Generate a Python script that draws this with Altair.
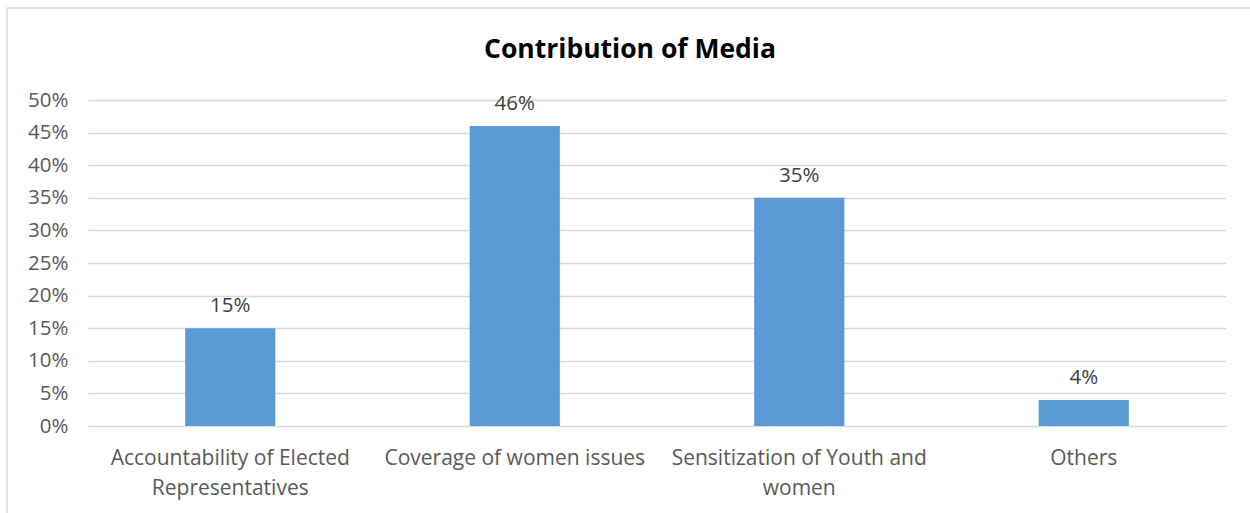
import altair as alt
import pandas as pd

title_text = "Contribution of Media"
categories = [
    "Accountability of Elected Representatives",
    "Coverage of women issues",
    "Sensitization of Youth and women",
    "Others",
]
label_lines = [
    ["Accountability of Elected", "Representatives"],
    ["Coverage of women issues"],
    ["Sensitization of Youth and", "women"],
    ["Others"],
]
values = [0.15, 0.46, 0.35, 0.04]

df = pd.DataFrame({"category": categories, "value": values})

FONT = "Open Sans"
FS = 21

expr_parts = []
for cat, lines in zip(categories, label_lines):
    arr = "[" + ",".join("'" + l + "'" for l in lines) + "]"
    expr_parts.append(f"datum.label == '{cat}' ? {arr} : ")
label_expr = "".join(expr_parts) + "datum.label"

x = alt.X(
    "category:N",
    sort=categories,
    title=None,
    scale=alt.Scale(paddingInner=0.683, paddingOuter=0.3415),
    axis=alt.Axis(
        labelAngle=0,
        labelExpr=label_expr,
        labelFont=FONT,
        labelFontSize=FS,
        labelColor="#595959",
        labelPadding=32,
        labelLineHeight=30,
        labelBaseline="middle",
        ticks=False,
        domain=False,
        grid=False,
        labelLimit=400,
    ),
)
y = alt.Y(
    "value:Q",
    title=None,
    scale=alt.Scale(domain=[0, 0.5], nice=False),
    axis=alt.Axis(
        format=".0%",
        values=[i / 100 for i in range(0, 51, 5)],
        labelOverlap=False,
        labelFont=FONT,
        labelFontSize=20.5,
        labelColor="#595959",
        labelPadding=20,
        ticks=False,
        domain=False,
        gridColor="#D9D9D9",
        gridWidth=1.3,
    ),
)

base = alt.Chart(df).encode(x=x, y=y)
bars = base.mark_bar(color="#5B9BD5")
text = base.mark_text(
    baseline="bottom", dy=-12, font=FONT, fontSize=20.5, color="#404040"
).encode(text=alt.Text("value:Q", format=".0%"))

deco = alt.Chart(alt.Data(values=[{"t": title_text}]))
border = deco.mark_rect(
    fill="transparent", stroke="#D9D9D9", strokeWidth=1.5
).encode(
    x=alt.value(-81), x2=alt.value(1300), y=alt.value(-92), y2=alt.value(600)
)
title = deco.mark_text(
    font=FONT, fontSize=26.5, fontWeight="bold", color="#000000",
    align="center", baseline="alphabetic",
).encode(x=alt.value(542), y=alt.value(-42), text="t:N")

chart = alt.layer(border, title, bars, text).properties(
    width=1138,
    height=326,
    padding={"left": 88, "top": 100, "right": 24, "bottom": 87},
    autosize=alt.AutoSizeParams(type="none"),
    background="white",
).configure_view(strokeWidth=0, stroke="transparent")

chart.save("out.html", embed_options={"renderer": "svg", "actions": False})
